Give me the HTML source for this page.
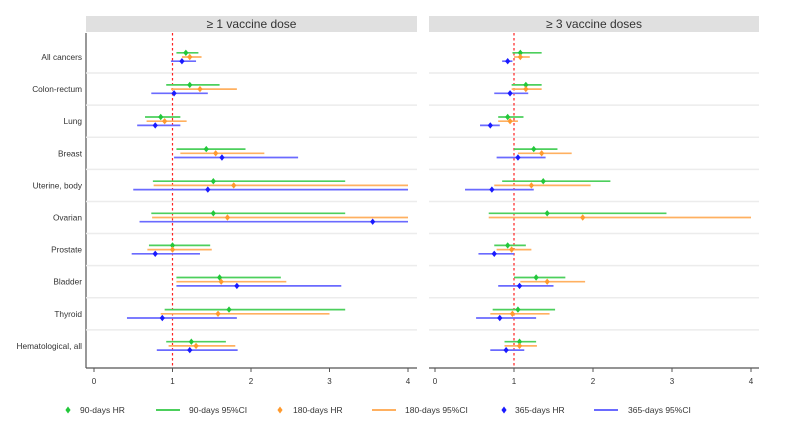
<!DOCTYPE html>
<html><head><meta charset="utf-8"><style>
html,body{margin:0;padding:0;background:#fff;width:800px;height:431px;overflow:hidden;font-family:"Liberation Sans",sans-serif}
</style></head><body>
<svg id="s" width="800" height="431" xmlns="http://www.w3.org/2000/svg" font-family="Liberation Sans, sans-serif"></svg>
<script>
const s=document.getElementById('s');let h='';
const rows=["All cancers","Colon-rectum","Lung","Breast","Uterine, body","Ovarian","Prostate","Bladder","Thyroid","Hematological, all"];
const cy=i=>57+i*32.1;
const L=[[[1.17,1.05,1.33],[1.22,1.12,1.37],[1.12,0.98,1.30]],
[[1.22,0.92,1.60],[1.35,0.98,1.82],[1.02,0.73,1.45]],
[[0.85,0.65,1.10],[0.90,0.67,1.18],[0.78,0.55,1.10]],
[[1.43,1.05,1.93],[1.55,1.10,2.17],[1.63,1.02,2.60]],
[[1.52,0.75,3.20],[1.78,0.76,4.0],[1.45,0.50,4.0]],
[[1.52,0.73,3.20],[1.70,0.74,4.0],[3.55,0.58,4.0]],
[[1.0,0.70,1.48],[1.0,0.68,1.50],[0.78,0.48,1.35]],
[[1.60,1.05,2.38],[1.62,1.05,2.45],[1.82,1.05,3.15]],
[[1.72,0.90,3.20],[1.58,0.85,3.0],[0.87,0.42,1.82]],
[[1.24,0.92,1.68],[1.30,0.95,1.80],[1.22,0.80,1.83]]];
const R=[[[1.08,0.98,1.35],[1.08,1.0,1.2],[0.92,0.85,0.98]],
[[1.15,0.97,1.35],[1.15,0.97,1.35],[0.95,0.75,1.18]],
[[0.92,0.80,1.12],[0.95,0.80,1.05],[0.70,0.57,0.82]],
[[1.25,1.0,1.55],[1.35,1.05,1.73],[1.05,0.78,1.40]],
[[1.37,0.85,2.22],[1.22,0.75,1.97],[0.72,0.38,1.25]],
[[1.42,0.68,2.93],[1.87,0.68,4.0],null],
[[0.92,0.75,1.15],[0.97,0.78,1.22],[0.75,0.55,1.0]],
[[1.28,1.0,1.65],[1.42,1.08,1.90],[1.07,0.80,1.50]],
[[1.05,0.73,1.52],[0.98,0.70,1.45],[0.82,0.52,1.28]],
[[1.07,0.88,1.28],[1.07,0.88,1.29],[0.90,0.70,1.13]]];
const col=["#22c83a","#ff9a2e","#1a1aff"],lcol=["#4ccf5c","#ffb060","#6a6aff"];
function panel(x0,x1,z,k,data,title){
 const X=v=>z+k*v;
 h+=`<rect x="${x0}" y="16" width="${x1-x0}" height="16" fill="#e0e0e0"/>`;
 h+=`<text x="${(x0+x1)/2}" y="28" font-size="12" text-anchor="middle" fill="#333">${title}</text>`;
 for(let i=0;i<9;i++){const y=(cy(i)+cy(i+1))/2;h+=`<line x1="${x0}" x2="${x1}" y1="${y}" y2="${y}" stroke="#ececec" stroke-width="1.5"/>`;}
 h+=`<line x1="${x0}" x2="${x1}" y1="368" y2="368" stroke="#555" stroke-width="1.2"/>`;
 for(let v=0;v<=4;v++){h+=`<line x1="${X(v)}" x2="${X(v)}" y1="368" y2="372" stroke="#555"/><text x="${X(v)}" y="384" font-size="8" text-anchor="middle" fill="#333">${v}</text>`;}
 h+=`<line x1="${X(1)}" x2="${X(1)}" y1="33" y2="368" stroke="#ff2020" stroke-width="1.2" stroke-dasharray="2.5,2.5"/>`;
 data.forEach((r,i)=>r.forEach((d,j)=>{if(!d)return;const y=cy(i)+(j-1)*4.2;
  h+=`<line x1="${X(d[1])}" x2="${X(d[2])}" y1="${y}" y2="${y}" stroke="${lcol[j]}" stroke-width="1.7"/>`;
  const x=X(d[0]);h+=`<path d="M${x} ${y-3.2}L${x+2.6} ${y}L${x} ${y+3.2}L${x-2.6} ${y}Z" fill="${col[j]}"/>`;}));
}
h+=`<line x1="86" x2="86" y1="33" y2="368" stroke="#555" stroke-width="1.2"/>`;
rows.forEach((r,i)=>{h+=`<text x="82" y="${cy(i)+3}" font-size="8.3" text-anchor="end" fill="#333">${r}</text>`;});
panel(86,417,94,78.5,L,"≥ 1 vaccine dose");
panel(429,759,435,79,R,"≥ 3 vaccine doses");
const lg=[[68,80,"d",0,"90-days HR"],[156,189,"l",0,"90-days 95%CI"],[280,293,"d",1,"180-days HR"],[372,405,"l",1,"180-days 95%CI"],[504,515,"d",2,"365-days HR"],[594,628,"l",2,"365-days 95%CI"]];
lg.forEach(([x,tx,t,c,lab])=>{const y=410;
 if(t=="d")h+=`<path d="M${x} ${y-3.5}L${x+2.6} ${y}L${x} ${y+3.5}L${x-2.6} ${y}Z" fill="${col[c]}"/>`;
 else h+=`<line x1="${x}" x2="${x+24}" y1="${y}" y2="${y}" stroke="${lcol[c]}" stroke-width="2"/>`;
 h+=`<text x="${tx}" y="${y+3}" font-size="8.5" fill="#333">${lab}</text>`;});
s.innerHTML=h;
</script>
</body></html>
